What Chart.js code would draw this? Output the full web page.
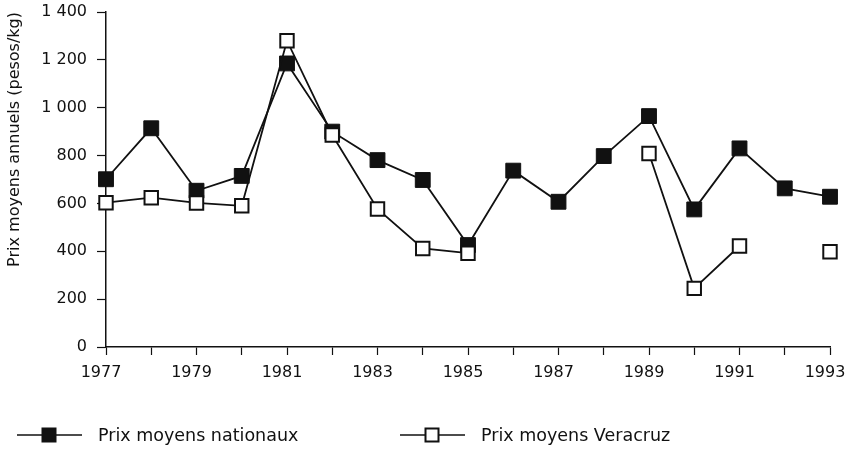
<!DOCTYPE html>
<html>
<head>
<meta charset="utf-8">
<script src="https://cdn.jsdelivr.net/npm/chart.js@4"></script>
<style>
  body { margin: 0; background: #fff; }
  canvas { display: block; }
</style>
</head>
<body>
<canvas id="prixChart" width="858" height="450"></canvas>
<script>
// Years on the x axis
const years = ['1977', '1978', '1979', '1980', '1981', '1982', '1983', '1984', '1985',
               '1986', '1987', '1988', '1989', '1990', '1991', '1992', '1993'];

// Annual average prices (pesos/kg)
const prixNationaux = [701, 914, 653, 715, 1185, 900, 781, 698, 426, 737, 607, 798, 965, 575, 830, 663, 628];
const prixVeracruz = [603, 624, 602, 590, 1280, 886, 577, 412, 392, null, null, null, 809, 245, 422, null, 398];

const seriesLabels = ['Prix moyens nationaux', 'Prix moyens Veracruz'];
const yTitle = 'Prix moyens annuels (pesos/kg)';

const FONT = "'DejaVu Sans', sans-serif";
const INK = '#111';

// Format 1400 -> "1 400"
function formatThousands(v) {
    return String(v).replace(/\B(?=(\d{3})+(?!\d))/g, ' ');
}

// Draw the legend below the chart: line through a marker, then the text
const bottomLegend = {
    id: 'bottomLegend',
    afterDraw(chart) {
        const ctx = chart.ctx;
        const items = [
            { x: 17, ds: chart.data.datasets[0] },
            { x: 400, ds: chart.data.datasets[1] }
        ];
        const y = 435;
        ctx.save();
        items.forEach(item => {
            ctx.strokeStyle = INK;
            ctx.lineWidth = 1.6;
            ctx.beginPath();
            ctx.moveTo(item.x, y);
            ctx.lineTo(item.x + 65, y);
            ctx.stroke();
            const cx = item.x + 32;
            ctx.fillStyle = item.ds.pointBackgroundColor;
            ctx.fillRect(cx - 6.5, y - 6.5, 13, 13);
            ctx.lineWidth = 2;
            ctx.strokeRect(cx - 6.5, y - 6.5, 13, 13);
            ctx.fillStyle = INK;
            ctx.font = "17.5px " + FONT;
            ctx.textBaseline = 'middle';
            ctx.fillText(item.ds.label, item.x + 81, y + 1);
        });
        ctx.restore();
    }
};

new Chart(document.getElementById('prixChart').getContext('2d'), {
    type: 'line',
    data: {
        labels: years,
        datasets: [{
            label: seriesLabels[0],
            data: prixNationaux,
            borderColor: INK,
            borderWidth: 1.8,
            pointStyle: 'rect',
            pointRadius: 10.5,
            pointBackgroundColor: INK,
            pointBorderColor: INK,
            pointBorderWidth: 1,
            tension: 0,
            order: 1
        }, {
            label: seriesLabels[1],
            data: prixVeracruz,
            borderColor: INK,
            borderWidth: 1.8,
            pointStyle: 'rect',
            pointRadius: 9.5,
            pointBackgroundColor: '#fff',
            pointBorderColor: INK,
            pointBorderWidth: 2,
            spanGaps: false,
            tension: 0,
            order: 0
        }]
    },
    options: {
        responsive: false,
        animation: false,
        layout: { padding: { top: 12, right: 28, bottom: 0, left: 0 } },
        plugins: {
            legend: { display: false },
            tooltip: { enabled: false }
        },
        scales: {
            x: {
                offset: false,
                afterFit: s => { s.height = 103; s.paddingLeft = 0; s.paddingRight = 0; },
                grid: { drawOnChartArea: false, tickLength: 8, color: INK, tickWidth: 1.2 },
                border: { color: INK, width: 1.5 },
                ticks: {
                    autoSkip: false,
                    maxRotation: 0,
                    padding: 8,
                    labelOffset: -5,
                    color: INK,
                    font: { family: FONT, size: 16 },
                    callback: function (val, i) {
                        return i % 2 === 0 ? this.getLabelForValue(val) : '';
                    }
                }
            },
            y: {
                min: 0,
                max: 1400,
                afterFit: s => { s.width = 106; s.paddingTop = 0; s.paddingBottom = 0; },
                grid: { drawOnChartArea: false, tickLength: 9, color: INK, tickWidth: 1.2 },
                border: { color: INK, width: 1.5 },
                ticks: {
                    stepSize: 200,
                    padding: 10,
                    color: INK,
                    font: { family: FONT, size: 16 },
                    callback: v => formatThousands(v)
                },
                title: {
                    display: true,
                    text: yTitle,
                    align: 'end',
                    color: INK,
                    font: { family: FONT, size: 16 },
                    padding: { top: 5, bottom: 4 }
                }
            }
        }
    },
    plugins: [bottomLegend]
});
</script>
</body>
</html>
